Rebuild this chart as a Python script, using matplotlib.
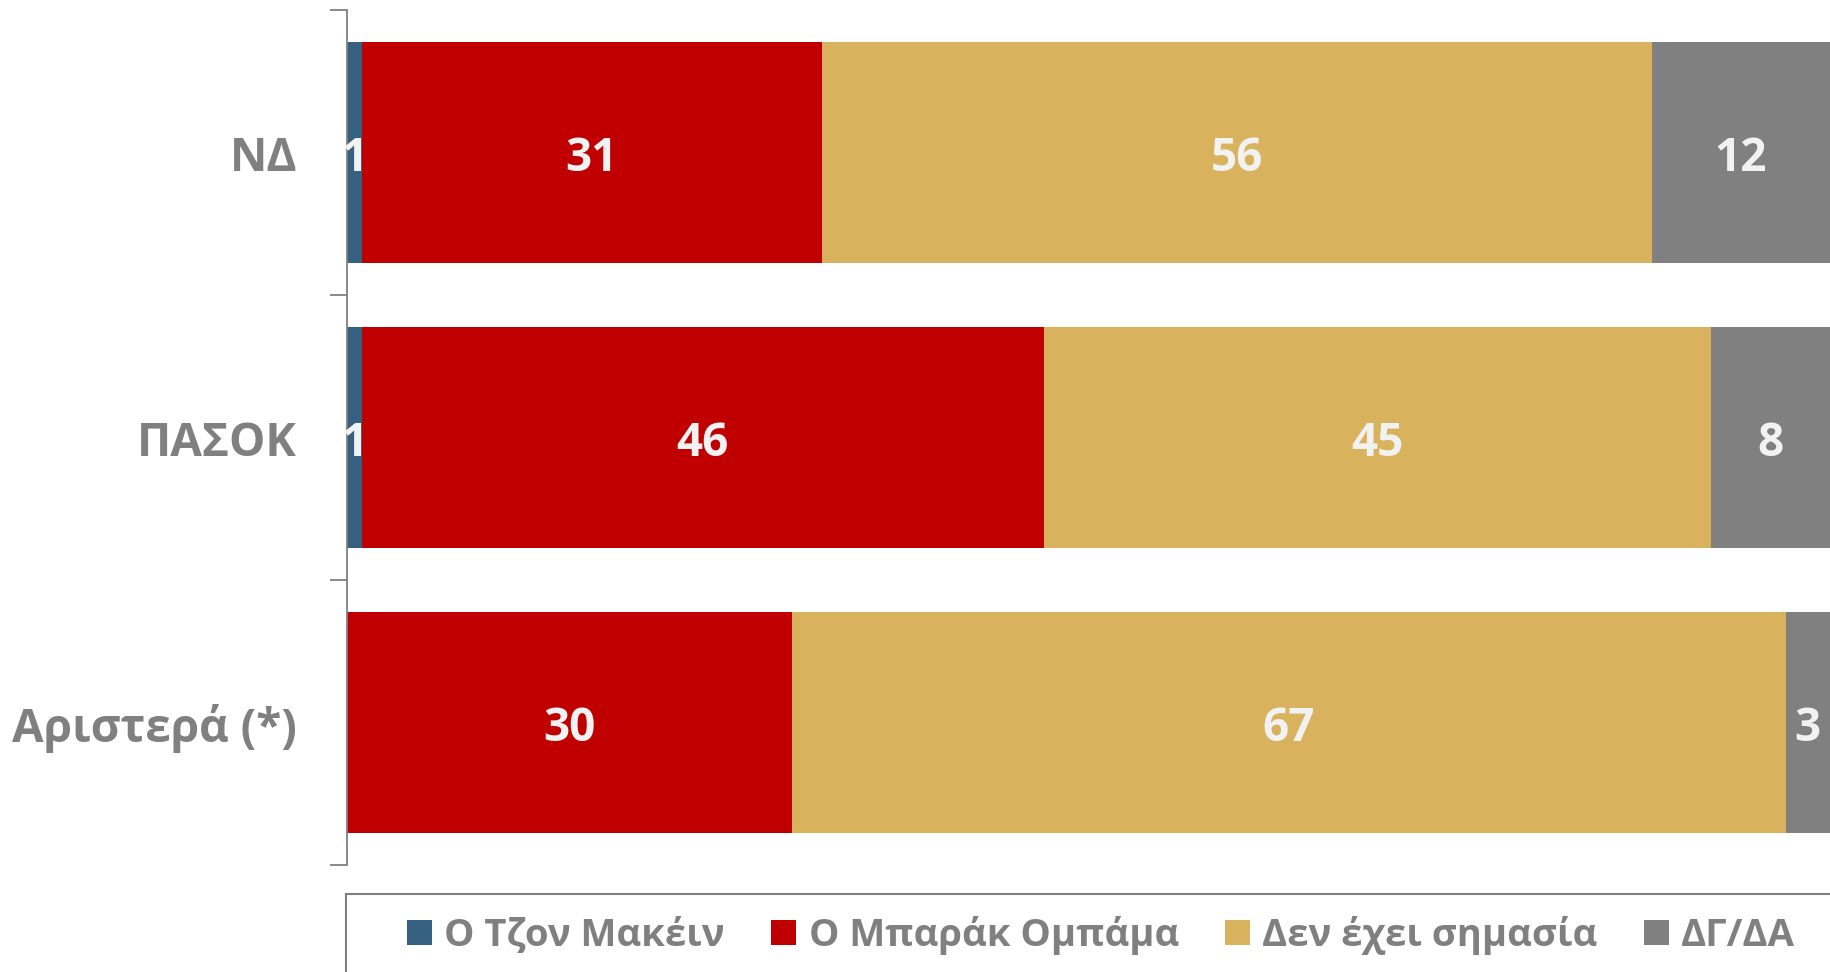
import matplotlib
matplotlib.use("Agg")
import matplotlib.pyplot as plt
from matplotlib.patches import Patch, Rectangle
from matplotlib import transforms

categories = ['ΝΔ', 'ΠΑΣΟΚ', 'Αριστερά (*)']
series_names = ['Ο Τζον Μακέιν', 'Ο Μπαράκ Ομπάμα', 'Δεν έχει σημασία', 'ΔΓ/ΔΑ']
mccain = [1, 1, 0]
obama = [31, 46, 30]
no_matter = [56, 45, 67]
dk_na = [12, 8, 3]

colors = ['#35607F', '#C00000', '#D8B25C', '#808080']
gray = '#808080'
label_color = '#F2F2F2'

plt.rcParams['font.family'] = ['Open Sans', 'DejaVu Sans']

fig = plt.figure(figsize=(18.3, 9.72), dpi=100)
ax = fig.add_axes([347/1830, 1 - 865/972, 1 - 347/1830, (865 - 10)/972])

ypos = list(range(len(categories)))
left = [0] * len(categories)
bar_h = 0.776
lab_size = 33
cap = 0.714 * lab_size * 100 / 72
lab_trans = transforms.offset_copy(ax.transData, fig=fig, x=0, y=-cap / 2 - 2, units='dots')
for vals, col in zip([mccain, obama, no_matter, dk_na], colors):
    ax.barh(ypos, vals, left=left, height=bar_h, color=col, edgecolor='none')
    for y, v, l in zip(ypos, vals, left):
        if v > 0:
            ax.text(l + v / 2, y, f'{v}', ha='center', va='baseline', color=label_color,
                    fontsize=lab_size, fontweight='bold', clip_on=False, transform=lab_trans)
    left = [a + b for a, b in zip(left, vals)]

ax.set_xlim(0, 100)
ax.set_ylim(len(categories) - 0.5, -0.5)
ax.set_xticks([])
ax.set_yticks([i - 0.5 for i in range(len(categories) + 1)])
ax.set_yticklabels([])
ax.tick_params(axis='y', which='major', length=12, width=1.3, color=gray)
ax.set_yticks(ypos, categories, minor=True)
ax.tick_params(axis='y', which='minor', length=0, pad=36, labelsize=33, labelcolor=gray)
for t in ax.get_yticklabels(minor=True):
    t.set_fontweight('bold')
for s in ['top', 'right', 'bottom']:
    ax.spines[s].set_visible(False)
ax.spines['left'].set_color(gray)
ax.spines['left'].set_linewidth(1.3)

# legend frame
fig.patches.append(Rectangle((346/1830, -0.05), 1.0, (972 - 894)/972 + 0.05,
                             transform=fig.transFigure, fill=False, edgecolor=gray,
                             linewidth=1.5, clip_on=False))
handles = [Patch(facecolor=c, edgecolor='none') for c in colors]
leg = fig.legend(handles, series_names, loc='center', bbox_to_anchor=(1101/1830, 1 - 935.5/972),
                 ncol=4, frameon=False, prop={'size': 27.5, 'weight': 'bold'},
                 handlelength=0.66, handleheight=0.66,
                 handletextpad=0.33, columnspacing=1.2, labelcolor=gray)

fig.savefig('out.png', dpi=100)
